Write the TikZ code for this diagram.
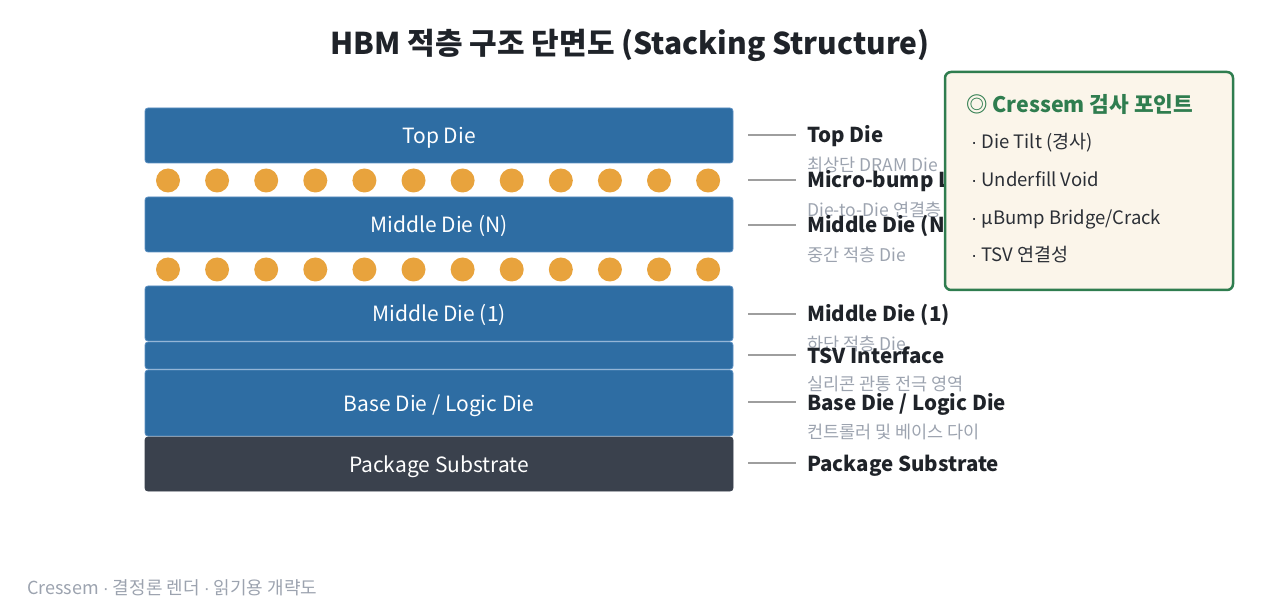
\documentclass[tikz,border=0pt]{standalone}
\usepackage{fontspec}
\setmainfont{Noto Sans CJK KR}
\newfontfamily\dotfont{Liberation Sans}
\newcommand{\md}{{\dotfont ·}}
\usetikzlibrary{calc}
\definecolor{dieblue}{HTML}{2E6DA3}
\definecolor{dieedge}{HTML}{5B8FC2}
\definecolor{bump}{HTML}{E8A33D}
\definecolor{subst}{HTML}{3A414D}
\definecolor{leadc}{HTML}{9E9E9E}
\definecolor{lbltxt}{HTML}{1F2329}
\definecolor{subtxt}{HTML}{9CA3AF}
\definecolor{boxfill}{HTML}{FBF5EA}
\definecolor{boxedge}{HTML}{2F7D4F}
\definecolor{itemtxt}{HTML}{2B2F36}
\tikzset{
  diebox/.style={rectangle, rounded corners=3pt, fill=dieblue, draw=dieedge, line width=0.8pt,
    minimum width=588pt, text=white, font=\fontsize{21}{25}\selectfont, inner sep=0pt,
    text height=17pt, text depth=0pt},
  substbox/.style={diebox, fill=subst, draw=subst},
  bumpdot/.style={circle, fill=bump, minimum size=24pt, inner sep=0pt},
  leader/.style={draw=leadc, line width=1.2pt},
  lbl/.style={anchor=base west, text=lbltxt, font=\fontsize{20.5}{25}\selectfont\bfseries, inner sep=0pt},
  sublbl/.style={anchor=base west, text=subtxt, font=\fontsize{17.5}{20}\selectfont, inner sep=0pt},
  item/.style={anchor=base west, text=itemtxt, font=\fontsize{18.5}{22}\selectfont, inner sep=0pt},
}
\begin{document}
\begin{tikzpicture}[x=1pt,y=-1pt]
\useasboundingbox (0,0) rectangle (1261,612);
% title
\node[text=lbltxt, font=\fontsize{30}{36}\selectfont\bfseries, inner sep=0pt] (title) at (630,45) {HBM 적층 구조 단면도 (Stacking Structure)};
% dies
\node[diebox, minimum height=55pt] (top) at (439,135.5) {Top Die};
\node[diebox, minimum height=55pt] (midn) at (439,224.5) {Middle Die (N)};
\node[diebox, minimum height=55pt] (mid1) at (439,313.5) {Middle Die (1)};
\node[diebox, minimum height=27pt] (tsv) at (439,355.5) {};
\node[diebox, minimum height=66pt] (base) at (439,403) {Base Die / Logic Die};
\node[substbox, minimum height=54pt] (sub) at (439,464) {Package Substrate};
% bumps
\foreach \i in {0,...,11} {
  \node[bumpdot] (ba\i) at (168+49.1*\i,180.5) {};
  \node[bumpdot] (bb\i) at (168+49.1*\i,269.5) {};
}
% labels
\coordinate (c1) at (807,135);
\coordinate (c2) at (807,180);
\coordinate (c3) at (807,225);
\coordinate (c4) at (807,314);
\coordinate (c5) at (807,355);
\coordinate (c6) at (807,402);
\coordinate (c7) at (807,463);
\node[sublbl] (s1) at (807,171.5) {최상단 DRAM Die};
\node[sublbl] (s2) at (807,216.5) {Die-to-Die 연결층};
\node[sublbl] (s3) at (807,261.5) {중간 적층 Die};
\node[sublbl] (s4) at (807,350) {하단 적층 Die};
\node[sublbl] (s5) at (807,390.5) {실리콘 관통 전극 영역};
\node[sublbl] (s6) at (807,438.5) {컨트롤러 및 베이스 다이};
\node[lbl] (l1) at (807,143) {Top Die};
\node[lbl] (l2) at (807,188) {Micro-bump Layer};
\node[lbl] (l3) at (807,233) {Middle Die (N)};
\node[lbl] (l4) at (807,322) {Middle Die (1)};
\node[lbl] (l5) at (807,363) {TSV Interface};
\node[lbl] (l6) at (807,410) {Base Die / Logic Die};
\node[lbl] (l7) at (807,471) {Package Substrate};
\foreach \c in {c1,c2,c3,c4,c5,c6,c7} {
  \draw[leader] ($(\c)+(-59,0)$) -- ($(\c)+(-11,0)$);
}
% inspection box
\node[draw=boxedge, fill=boxfill, line width=2.5pt, rounded corners=6pt, minimum width=288pt, minimum height=218pt, inner sep=0pt] (box) at (1089,181) {};
\node[anchor=base west, text=boxedge, font=\fontsize{21.4}{26}\selectfont\bfseries, inner sep=0pt] (bt) at (966,113) {◎ Cressem 검사 포인트};
\node[item] (i1) at (971,149) {\md{} Die Tilt (경사)};
\node[item] (i2) at (971,187) {\md{} Underfill Void};
\node[item] (i3) at (971,225) {\md{} µBump Bridge/Crack};
\node[item] (i4) at (971,262) {\md{} TSV 연결성};
% footer
\node[anchor=base west, text=subtxt, font=\fontsize{18}{21}\selectfont, inner sep=0pt] (foot) at (27,594) {Cressem \md{} 결정론 렌더 \md{} 읽기용 개략도};
\end{tikzpicture}
\end{document}
